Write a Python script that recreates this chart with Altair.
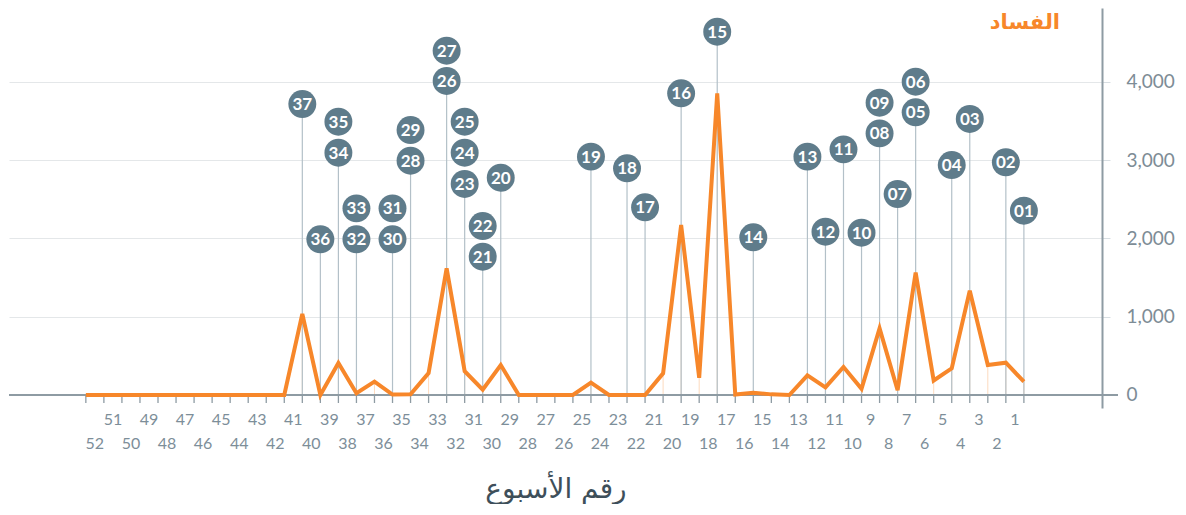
import altair as alt
import pandas as pd

# ---- data ----
weeks = list(range(1, 54))
values = [170, 413, 383, 1332, 340, 185, 1562, 60, 851, 80,
          358, 98, 250, 0, 8, 30, 5, 3852, 220, 2170,
          277, 0, 0, 0, 157, 0, 0, 0, 0, 383,
          68, 304, 1617, 280, 10, 5, 170, 23, 408, 0,
          1036, 0, 0, 0, 0, 0, 0, 0, 0, 0,
          0, 0, 0]
tick_labels = list(range(1, 53))
y_ticks = [0, 1000, 2000, 3000, 4000]
y_tick_text = ["0", "1,000", "2,000", "3,000", "4,000"]

ann_labels = ["01", "02", "03", "04", "05", "06", "07", "08", "09", "10",
              "11", "12", "13", "14", "15", "16", "17", "18", "19", "20",
              "21", "22", "23", "24", "25", "26", "27", "28", "29", "30",
              "31", "32", "33", "34", "35", "36", "37"]
ann_weeks = [1, 2, 4, 5, 7, 7, 8, 9, 9, 10,
             11, 12, 13, 16, 18, 20, 22, 23, 25, 30,
             31, 31, 32, 32, 32, 33, 33, 35, 35, 36,
             36, 38, 38, 39, 39, 40, 41]
ann_y = [2353, 2971, 3524, 2936, 3609, 4000, 2566, 3340, 3732, 2072,
         3136, 2085, 3043, 2013, 4638, 3852, 2396, 2894, 3043, 2774,
         1766, 2157, 2694, 3094, 3489, 4009, 4396, 2991, 3383, 1988,
         2383, 1988, 2383, 3094, 3489, 1988, 3715]

ORANGE = "#F7872A"
SLATE = "#5F7C8B"
AXIS = "#8E9BA3"

df = pd.DataFrame({"week": weeks, "value": values})
ann = pd.DataFrame({"label": ann_labels, "week": ann_weeks, "y": ann_y})
ann_base = ann.groupby("week", as_index=False)["y"].min()
ticks = pd.DataFrame({"week": weeks})
labs = pd.DataFrame({"label": tick_labels})
labs["pos"] = labs["label"] + 0.5
labs["odd"] = labs["label"] % 2
one = pd.DataFrame({"zero": [0]})

label_expr = " : ".join(
    f"datum.value == {v} ? '{t}'" for v, t in zip(y_ticks[:-1], y_tick_text[:-1])
) + f" : '{y_tick_text[-1]}'"

xs = alt.Scale(domain=[-3.33, 57.26], reverse=True, nice=False, zero=False)
ys = alt.Scale(domain=[-166, 4941], nice=False, zero=False)

grid_axis = alt.Axis(values=y_ticks, labelExpr=label_expr, orient="right",
                     grid=True, gridColor="#E4E7E9", gridWidth=1.2,
                     domainColor=AXIS, domainWidth=2, tickColor="#D8DEE2",
                     tickSize=8, labelPadding=16, labelFontSize=19,
                     labelColor="#7D8C96", labelFont="Lato", title=None)


def X(f):
    return alt.X(f, scale=xs, axis=None)


def Y(f):
    return alt.Y(f, scale=ys, axis=grid_axis)


line = alt.Chart(df).mark_line(color=ORANGE, strokeWidth=4).encode(
    x=X("week:Q"), y=Y("value:Q"),
)

drops = alt.Chart(df).mark_rule(color=ORANGE, opacity=0.3, strokeWidth=1).encode(
    x=X("week:Q"), y=Y("value:Q"), y2=alt.Y2("zero:Q")
).transform_calculate(zero="0")

ann_rules = alt.Chart(ann_base).mark_rule(color="#B3C0C8", strokeWidth=1.2).encode(
    x=X("week:Q"), y=Y("y:Q"), y2=alt.Y2("zero:Q")
).transform_calculate(zero="0")

baseline = alt.Chart(one).mark_rule(color=AXIS, strokeWidth=2).encode(
    x=alt.value(0), x2=alt.value(1109), y=Y("zero:Q")
)

xticks = alt.Chart(ticks).mark_rule(color=AXIS, strokeWidth=1.3).encode(
    x=X("week:Q"), y=alt.value(387), y2=alt.value(395)
)

xlab_odd = alt.Chart(labs).mark_text(fontSize=16, color="#7D8E99", font="Lato").encode(
    x=X("pos:Q"), y=alt.value(412), text="label:N"
).transform_filter("datum.odd == 1")
xlab_even = alt.Chart(labs).mark_text(fontSize=16, color="#7D8E99", font="Lato").encode(
    x=X("pos:Q"), y=alt.value(436), text="label:N"
).transform_filter("datum.odd == 0")

circles = alt.Chart(ann).mark_circle(size=780, color=SLATE, opacity=1).encode(
    x=X("week:Q"), y=Y("y:Q")
)
ctext = alt.Chart(ann).mark_text(color="white", fontSize=17, fontWeight="bold",
                                 font="Lato", dy=1).encode(
    x=X("week:Q"), y=Y("y:Q"), text="label:N"
)

title = alt.Chart(one).mark_text(text="الفساد", color=ORANGE, fontSize=21,
                                 font="DejaVu Sans", align="right", fontWeight="bold").encode(
    x=alt.value(1051), y=alt.value(15)
)

xtitle = alt.Chart(one).mark_text(text="رقم الأسبوع", color="#3E4F5A", fontSize=28,
                                  font="DejaVu Sans").encode(
    x=alt.value(547), y=alt.value(482)
)

chart = alt.layer(drops, ann_rules, baseline, xticks, xlab_odd, xlab_even, line,
                  circles, ctext, title, xtitle).properties(
    width=1093, height=400, padding=0
).configure_view(stroke=None)

chart.save("out.html", embed_options={"renderer": "svg", "actions": False})
